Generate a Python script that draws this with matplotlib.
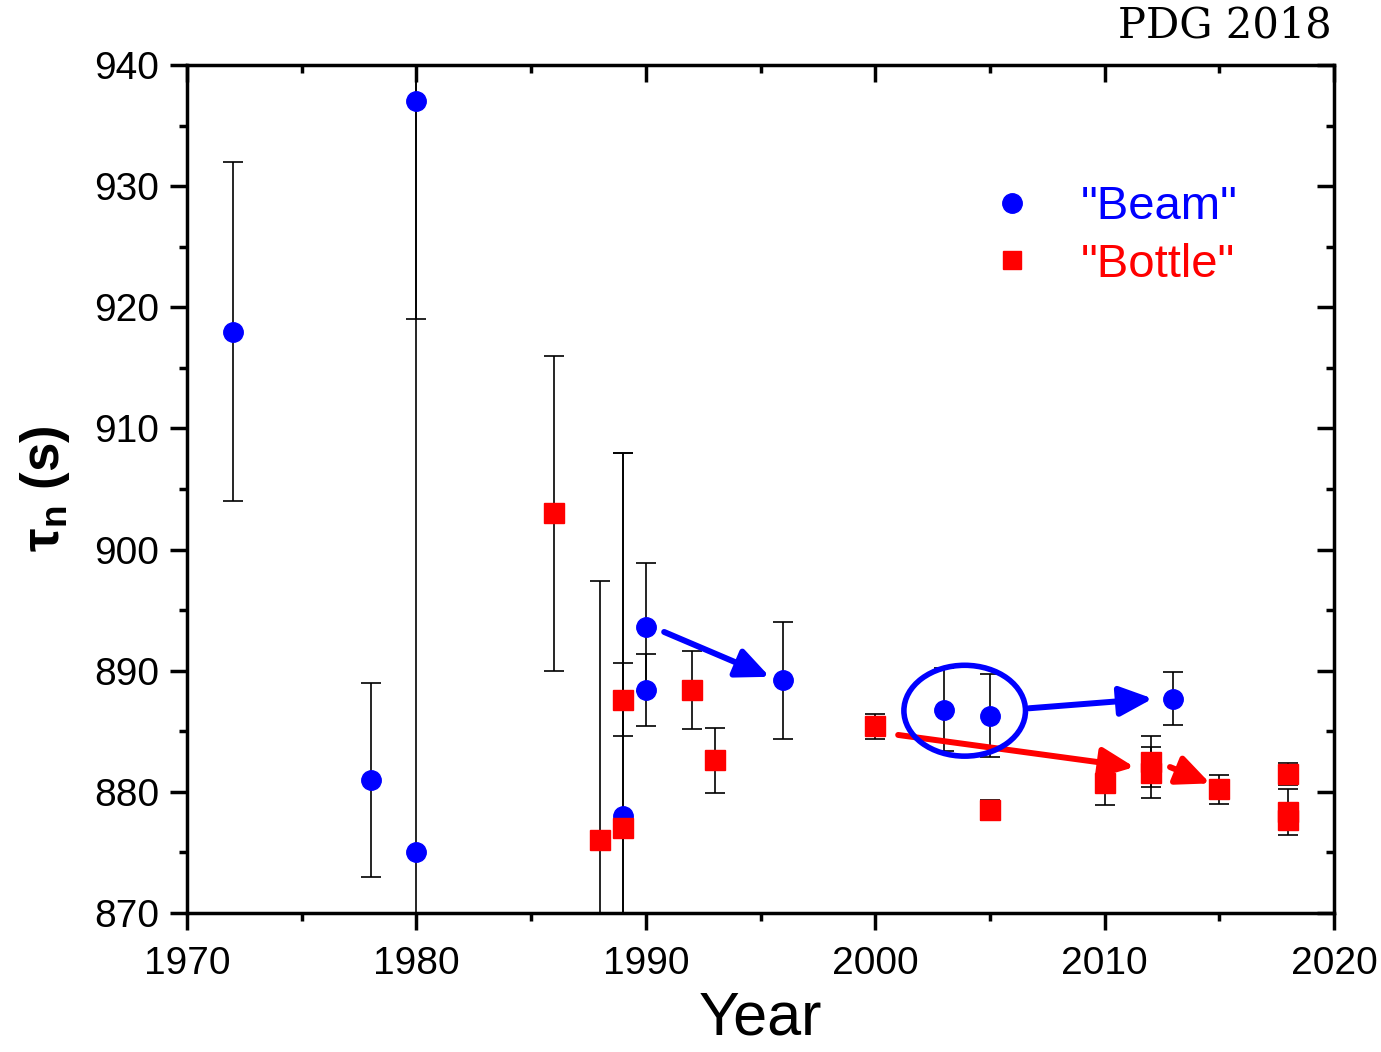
import numpy as np
from matplotlib import pyplot as plt
from matplotlib.patches import Ellipse
from matplotlib.lines import Line2D
from matplotlib.ticker import MultipleLocator

plt.rcParams['font.family'] = ['Liberation Sans', 'DejaVu Sans']

# "Beam" measurements
beam_year = [1972, 1978, 1980, 1980, 1989, 1990, 1990, 1996, 2003, 2005, 2013]
beam_tau = [918, 881, 937, 875, 878, 893.6, 888.4, 889.2, 886.8, 886.3, 887.7]
beam_err = [14, 8, 18, 95, 30, 5.3, 3.0, 4.8, 3.4, 3.4, 2.2]

# "Bottle" measurements
bottle_year = [1986, 1988, 1989, 1989, 1992, 1993, 2000, 2005, 2010, 2012, 2012, 2015, 2018, 2018, 2018]
bottle_tau = [903, 876, 887.6, 877, 888.4, 882.6, 885.4, 878.5, 880.7, 882.5, 881.6, 880.2, 881.5, 878.3, 877.7]
bottle_err = [13, 21.4, 3.0, 31, 3.2, 2.7, 1.0, 0.8, 1.8, 2.1, 2.1, 1.2, 0.9, 1.9, 0.8]

fig = plt.figure(figsize=(13.81, 10.52), dpi=100)
ax = fig.add_axes([0.1354, 0.1321, 0.8306, 0.8061])

ax.errorbar(beam_year, beam_tau, yerr=beam_err, fmt='o', color='blue', ms=14,
            ecolor='black', elinewidth=1.2, capsize=7, capthick=1.2, zorder=3)
ax.errorbar(bottle_year, bottle_tau, yerr=bottle_err, fmt='s', color='red', ms=15,
            ecolor='black', elinewidth=1.2, capsize=7, capthick=1.2, zorder=3)

# arrows and ellipse
arr = dict(arrowstyle='-|>,head_length=1.0,head_width=0.45', lw=4.3,
           mutation_scale=20, shrinkA=0, shrinkB=0)
ax.annotate('', xy=(1995.4, 889.5), xytext=(1990.8, 893.2),
            arrowprops=dict(color='blue', **arr), zorder=4)
ax.annotate('', xy=(2012.1, 887.7), xytext=(2006.7, 886.9),
            arrowprops=dict(color='blue', **arr), zorder=4)
ax.annotate('', xy=(2011.3, 882.05), xytext=(2001.0, 884.7),
            arrowprops=dict(color='red', **arr), zorder=4)
ax.annotate('', xy=(2014.6, 880.7), xytext=(2012.85, 882.05),
            arrowprops=dict(color='red', **arr), zorder=4)
ax.add_patch(Ellipse((2003.9, 886.7), 5.3, 7.5, fill=False, edgecolor='blue', lw=4, zorder=4))

ax.set_xlim(1970, 2020)
ax.set_ylim(870, 940)
ax.xaxis.set_major_locator(MultipleLocator(10))
ax.xaxis.set_minor_locator(MultipleLocator(5))
ax.yaxis.set_major_locator(MultipleLocator(10))
ax.yaxis.set_minor_locator(MultipleLocator(5))

for s in ax.spines.values():
    s.set_linewidth(2.5)
ax.tick_params(which='major', direction='out', length=12, width=2.5, labelsize=28)
ax.tick_params(axis='x', which='major', pad=12)
ax.tick_params(axis='y', which='major', pad=8)
ax.tick_params(which='minor', direction='out', length=6, width=2.5)

# inward ticks on top and right
axt = ax.secondary_xaxis('top')
axt.xaxis.set_major_locator(MultipleLocator(10))
axt.xaxis.set_minor_locator(MultipleLocator(5))
axt.tick_params(which='major', direction='in', length=12, width=2.5, labeltop=False)
axt.tick_params(which='minor', direction='in', length=6, width=2.5)
axr = ax.secondary_yaxis('right')
axr.yaxis.set_major_locator(MultipleLocator(10))
axr.yaxis.set_minor_locator(MultipleLocator(5))
axr.tick_params(which='major', direction='in', length=12, width=2.5, labelright=False)
axr.tick_params(which='minor', direction='in', length=6, width=2.5)

ax.set_xlabel('Year', fontsize=44, labelpad=6)
ax.set_ylabel('τ$_\\mathregular{n}$ (s)', fontsize=38, fontweight='bold', labelpad=16)

handles = [Line2D([], [], ls='none', marker='o', color='blue', ms=14),
           Line2D([], [], ls='none', marker='s', color='red', ms=13)]
ax.legend(handles, ['"Beam"', '"Bottle"'], loc='upper left', bbox_to_anchor=(0.701, 0.858),
          frameon=False, fontsize=34, labelcolor=['blue', 'red'], handlelength=0.9,
          handletextpad=1.0, labelspacing=0.28, borderpad=0, borderaxespad=0)

fig.text(0.9645, 0.9648, 'PDG 2018', family='DejaVu Serif', fontsize=30, ha='right', va='baseline')

plt.savefig('out.png')
